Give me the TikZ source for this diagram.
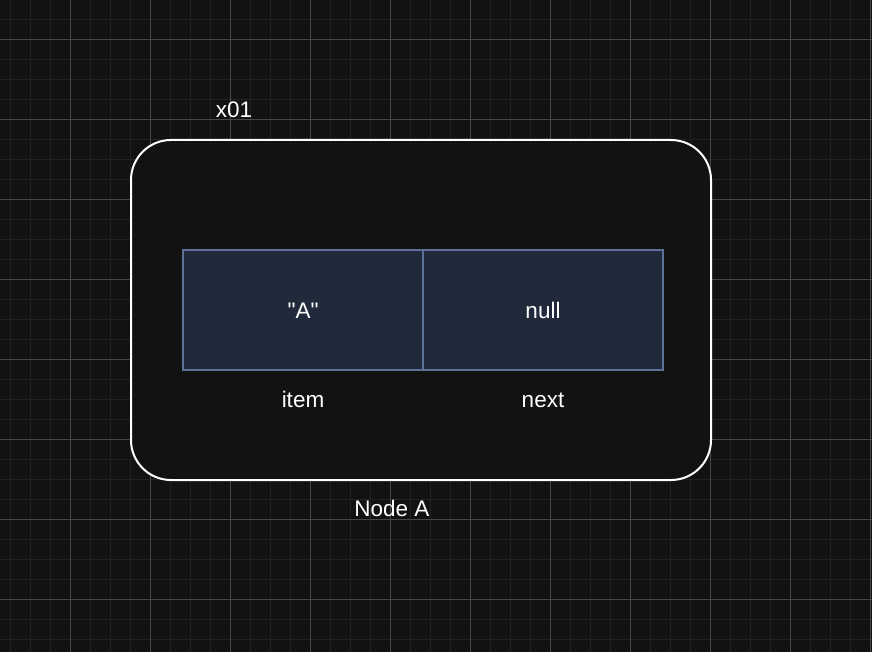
\documentclass[tikz,border=0pt]{standalone}
\usepackage{fontspec}
\setmainfont{Liberation Sans}[Ligatures=TeXOff]
\usetikzlibrary{positioning}
\definecolor{canvas}{HTML}{121212}
\definecolor{minorgrid}{HTML}{222222}
\definecolor{majorgrid}{HTML}{474747}
\definecolor{cellfill}{HTML}{212A3B}
\definecolor{cellline}{HTML}{5E7299}
\tikzset{
  lbl/.style={text=white,font=\fontsize{22.5}{26}\selectfont,inner sep=0pt,text height=16pt,text depth=0pt},
  cell/.style={draw=cellline,fill=cellfill,line width=1.5pt,minimum width=240pt,minimum height=120pt,outer sep=0pt,lbl},
  outerbox/.style={draw=white,line width=2pt,rounded corners=40pt,minimum width=580pt,minimum height=340pt,fill=canvas}
}
\begin{document}
\begin{tikzpicture}[x=1pt,y=-1pt]
\fill[canvas] (0,0) rectangle (872,652);
\useasboundingbox (0,0) rectangle (872,652);
% grid
\foreach \gx in {10,30,...,870} \draw[minorgrid,line width=1pt] (\gx,0) -- (\gx,652);
\foreach \gy in {19.5,39.5,...,652} \draw[minorgrid,line width=1pt] (0,\gy) -- (872,\gy);
\foreach \gx in {70,150,...,870} \draw[majorgrid,line width=1pt] (\gx,0) -- (\gx,652);
\foreach \gy in {39.5,119.5,...,652} \draw[majorgrid,line width=1pt] (0,\gy) -- (872,\gy);
% the node box
\node[outerbox] (nodeA) at (421,310) {};
\node[lbl,above=21.7pt of nodeA.north west,xshift=104pt] (addr) {x01};
\node[lbl,below=19.7pt of nodeA.south,xshift=-29pt] (title) {Node A};
\node[cell] (item) at (303,310) {"A"};
\node[cell,right=0pt of item] (next) {null};
\node[lbl,below=21.7pt of item] (itemlbl) {item};
\node[lbl,below=21.7pt of next] (nextlbl) {next};
\end{tikzpicture}
\end{document}
